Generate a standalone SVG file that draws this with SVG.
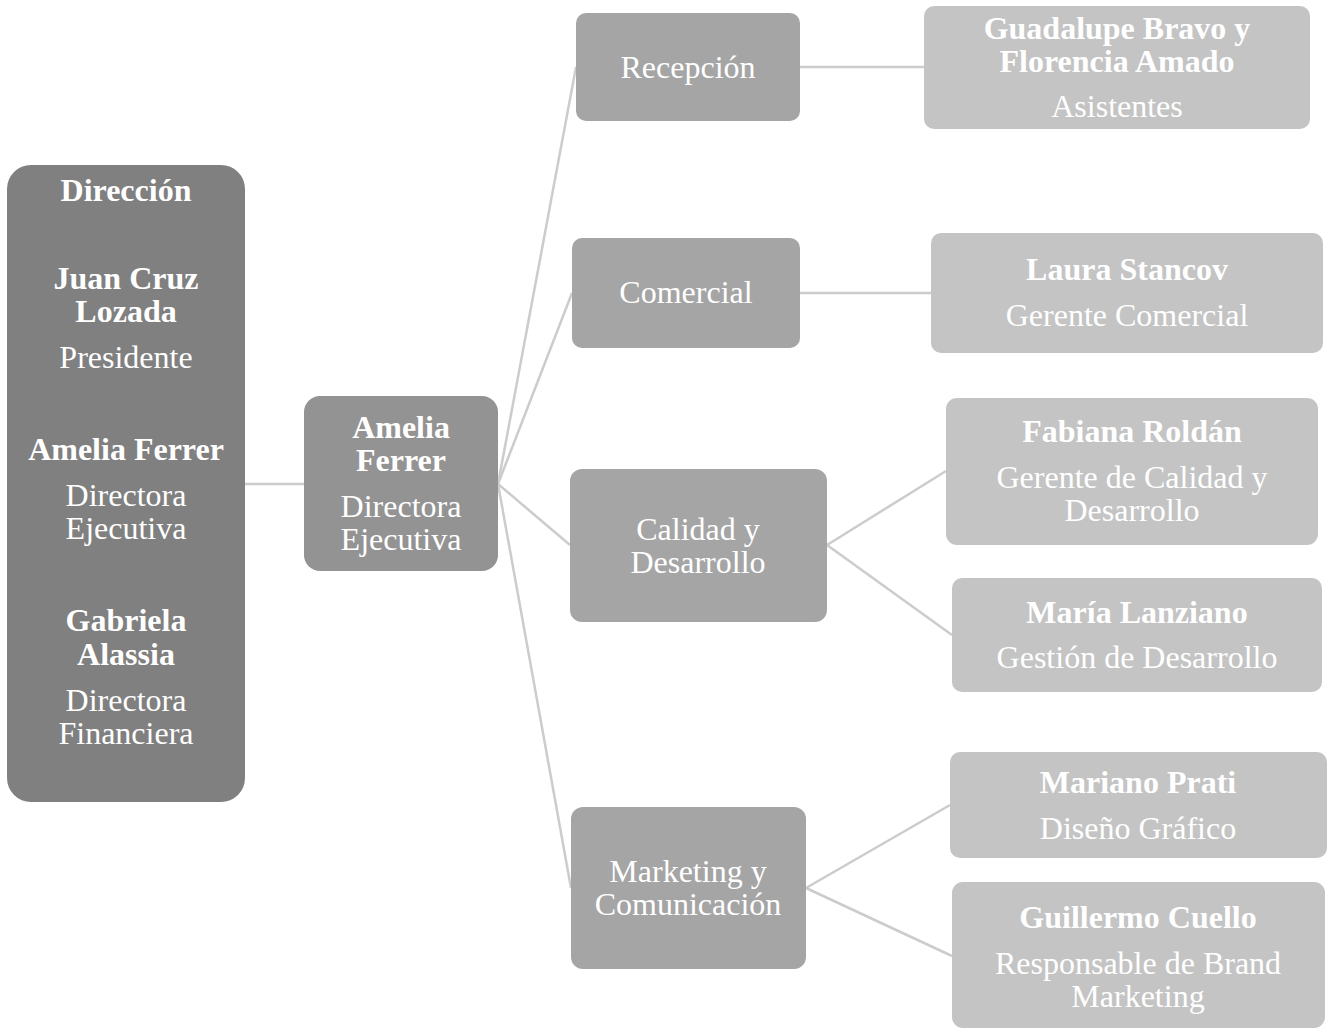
<svg xmlns="http://www.w3.org/2000/svg" width="1330" height="1030" viewBox="0 0 1330 1030">
<style>
text{font-family:"Liberation Serif","Times New Roman",serif;font-size:32px;fill:#ffffff;text-anchor:middle}
.b{font-weight:bold}
.l0{fill:#808080}
.l1{fill:#939393}
.l2{fill:#a5a5a5}
.l3{fill:#c4c4c4}
.c{stroke:#cccccc;stroke-width:2.5;fill:none}
</style>
<rect width="1330" height="1030" fill="#ffffff"/>
<g id="connectors">
<line class="c" x1="245" y1="484" x2="304" y2="484"/>
<line class="c" x1="498" y1="484" x2="576" y2="67"/>
<line class="c" x1="498" y1="484" x2="572" y2="293"/>
<line class="c" x1="498" y1="484" x2="570" y2="545"/>
<line class="c" x1="498" y1="484" x2="571" y2="888"/>
<line class="c" x1="800" y1="67" x2="924" y2="67"/>
<line class="c" x1="800" y1="293" x2="931" y2="293"/>
<line class="c" x1="827" y1="545" x2="946" y2="471"/>
<line class="c" x1="827" y1="545" x2="952" y2="635"/>
<line class="c" x1="806" y1="888" x2="950" y2="805"/>
<line class="c" x1="806" y1="888" x2="952" y2="956"/>
</g>
<g id="direccion">
<rect class="l0" x="7" y="165" width="238" height="637" rx="24"/>
<text class="b" x="126" y="201">Dirección</text>
<text class="b" x="126" y="289">Juan Cruz</text>
<text class="b" x="126" y="322">Lozada</text>
<text x="126" y="368">Presidente</text>
<text class="b" x="126" y="460">Amelia Ferrer</text>
<text x="126" y="506">Directora</text>
<text x="126" y="539">Ejecutiva</text>
<text class="b" x="126" y="631">Gabriela</text>
<text class="b" x="126" y="665">Alassia</text>
<text x="126" y="711">Directora</text>
<text x="126" y="744">Financiera</text>
</g>
<g id="amelia">
<rect class="l1" x="304" y="396" width="194" height="175" rx="16"/>
<text class="b" x="401" y="438">Amelia</text>
<text class="b" x="401" y="471">Ferrer</text>
<text x="401" y="517">Directora</text>
<text x="401" y="550">Ejecutiva</text>
</g>
<g id="recepcion">
<rect class="l2" x="576" y="13" width="224" height="108" rx="10"/>
<text x="688" y="78">Recepción</text>
</g>
<g id="comercial">
<rect class="l2" x="572" y="238" width="228" height="110" rx="10"/>
<text x="686" y="303">Comercial</text>
</g>
<g id="calidad">
<rect class="l2" x="570" y="469" width="257" height="153" rx="12"/>
<text x="698" y="540">Calidad y</text>
<text x="698" y="573">Desarrollo</text>
</g>
<g id="marketing">
<rect class="l2" x="571" y="807" width="235" height="162" rx="12"/>
<text x="688" y="882">Marketing y</text>
<text x="688" y="915">Comunicación</text>
</g>
<g id="guadalupe">
<rect class="l3" x="924" y="6" width="386" height="123" rx="10"/>
<text class="b" x="1117" y="39">Guadalupe Bravo y</text>
<text class="b" x="1117" y="72">Florencia Amado</text>
<text x="1117" y="117">Asistentes</text>
</g>
<g id="laura">
<rect class="l3" x="931" y="233" width="392" height="120" rx="10"/>
<text class="b" x="1127" y="280">Laura Stancov</text>
<text x="1127" y="326">Gerente Comercial</text>
</g>
<g id="fabiana">
<rect class="l3" x="946" y="398" width="372" height="147" rx="11"/>
<text class="b" x="1132" y="442">Fabiana Roldán</text>
<text x="1132" y="488">Gerente de Calidad y</text>
<text x="1132" y="521">Desarrollo</text>
</g>
<g id="maria">
<rect class="l3" x="952" y="578" width="370" height="114" rx="10"/>
<text class="b" x="1137" y="623">María Lanziano</text>
<text x="1137" y="668">Gestión de Desarrollo</text>
</g>
<g id="mariano">
<rect class="l3" x="950" y="752" width="377" height="106" rx="10"/>
<text class="b" x="1138" y="793">Mariano Prati</text>
<text x="1138" y="839">Diseño Gráfico</text>
</g>
<g id="guillermo">
<rect class="l3" x="952" y="882" width="373" height="146" rx="11"/>
<text class="b" x="1138" y="928">Guillermo Cuello</text>
<text x="1138" y="974">Responsable de Brand</text>
<text x="1138" y="1007">Marketing</text>
</g>
</svg>
